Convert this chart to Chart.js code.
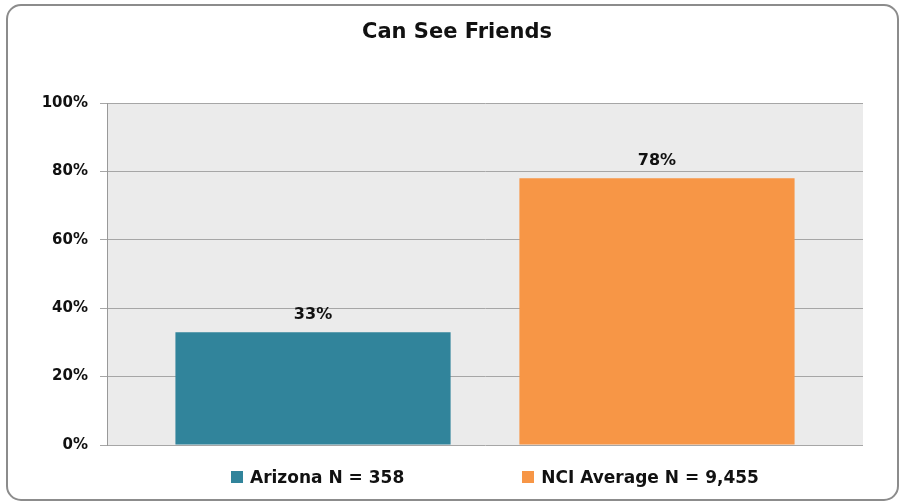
<!DOCTYPE html>
<html>
<head>
<meta charset="utf-8">
<script src="https://cdn.jsdelivr.net/npm/chart.js@4"></script>
<style>
    html, body { margin: 0; padding: 0; background: #fff; }
    #wrap { position: relative; width: 900px; height: 502px; }
    #legend {
        position: absolute; left: 231px; top: 466px; height: 22px;
        display: flex; align-items: center; gap: 118px;
        font: bold 17px "DejaVu Sans", sans-serif; color: #111;
    }
    .item { display: flex; align-items: center; white-space: nowrap; }
    .swatch { width: 12px; height: 12px; margin-right: 7px; }
</style>
</head>
<body>
<div id="wrap">
    <canvas id="friendsChart" width="900" height="502"></canvas>
    <div id="legend"></div>
</div>
<script>
const title = "Can See Friends";
const categories = [""];
const seriesNames = ["Arizona N = 358", "NCI Average N = 9,455"];
const arizonaValues = [33];
const nciValues = [78];
const seriesColors = ["#31849B", "#F79646"];
const yTicks = [0, 20, 40, 60, 80, 100];

document.addEventListener("DOMContentLoaded", () => {
    const ctx = document.getElementById("friendsChart").getContext("2d");

    // rounded frame, grey plot background and the title
    const backdrop = {
        id: "backdrop",
        beforeDraw(chart) {
            const c = chart.ctx;
            const a = chart.chartArea;
            c.save();
            c.fillStyle = "#fff";
            c.fillRect(0, 0, chart.width, chart.height);
            c.beginPath();
            c.roundRect(7, 5, 891, 495, 14);
            c.lineWidth = 2;
            c.strokeStyle = "#8c8c8c";
            c.stroke();
            c.fillStyle = "#ebebeb";
            c.fillRect(a.left, a.top, a.right - a.left, a.bottom - a.top);
            c.font = "bold 21px 'DejaVu Sans', sans-serif";
            c.fillStyle = "#111";
            c.textAlign = "center";
            c.textBaseline = "middle";
            c.fillText(title, 457, 33);
            c.restore();
        }
    };

    // value labels above the bars
    const valueLabels = {
        id: "valueLabels",
        afterDatasetsDraw(chart) {
            const c = chart.ctx;
            c.save();
            c.font = "bold 16px 'DejaVu Sans', sans-serif";
            c.fillStyle = "#111";
            c.textAlign = "center";
            c.textBaseline = "bottom";
            chart.data.datasets.forEach((ds, i) => {
                chart.getDatasetMeta(i).data.forEach((bar, j) => {
                    c.fillText(ds.data[j] + "%", bar.x, bar.y - 9);
                });
            });
            c.restore();
        }
    };

    new Chart(ctx, {
        type: "bar",
        data: {
            labels: categories,
            datasets: [
                { label: seriesNames[0], data: arizonaValues, backgroundColor: seriesColors[0] },
                { label: seriesNames[1], data: nciValues, backgroundColor: seriesColors[1] }
            ]
        },
        options: {
            responsive: false,
            animation: false,
            datasets: { bar: { barPercentage: 0.8, categoryPercentage: 0.91, borderWidth: 0 } },
            layout: { padding: { top: 103, left: 0, right: 37, bottom: 57 } },
            plugins: {
                legend: { display: false },
                tooltip: { enabled: false }
            },
            scales: {
                x: { display: false },
                y: {
                    min: 0,
                    max: 100,
                    afterFit: s => { s.width = 107; },
                    afterBuildTicks: s => { s.ticks = yTicks.map(v => ({ value: v })); },
                    ticks: {
                        callback: v => v + "%",
                        color: "#111",
                        padding: 12,
                        font: { family: "DejaVu Sans", size: 15, weight: "bold" }
                    },
                    grid: { color: "#a6a6a6", tickLength: 7, lineWidth: 1 },
                    border: { color: "#999", width: 1 }
                }
            }
        },
        plugins: [backdrop, valueLabels]
    });

    const legend = document.getElementById("legend");
    seriesNames.forEach((name, i) => {
        const item = document.createElement("div");
        item.className = "item";
        const sw = document.createElement("span");
        sw.className = "swatch";
        sw.style.background = seriesColors[i];
        item.appendChild(sw);
        item.appendChild(document.createTextNode(name));
        legend.appendChild(item);
    });
});
</script>
</body>
</html>
